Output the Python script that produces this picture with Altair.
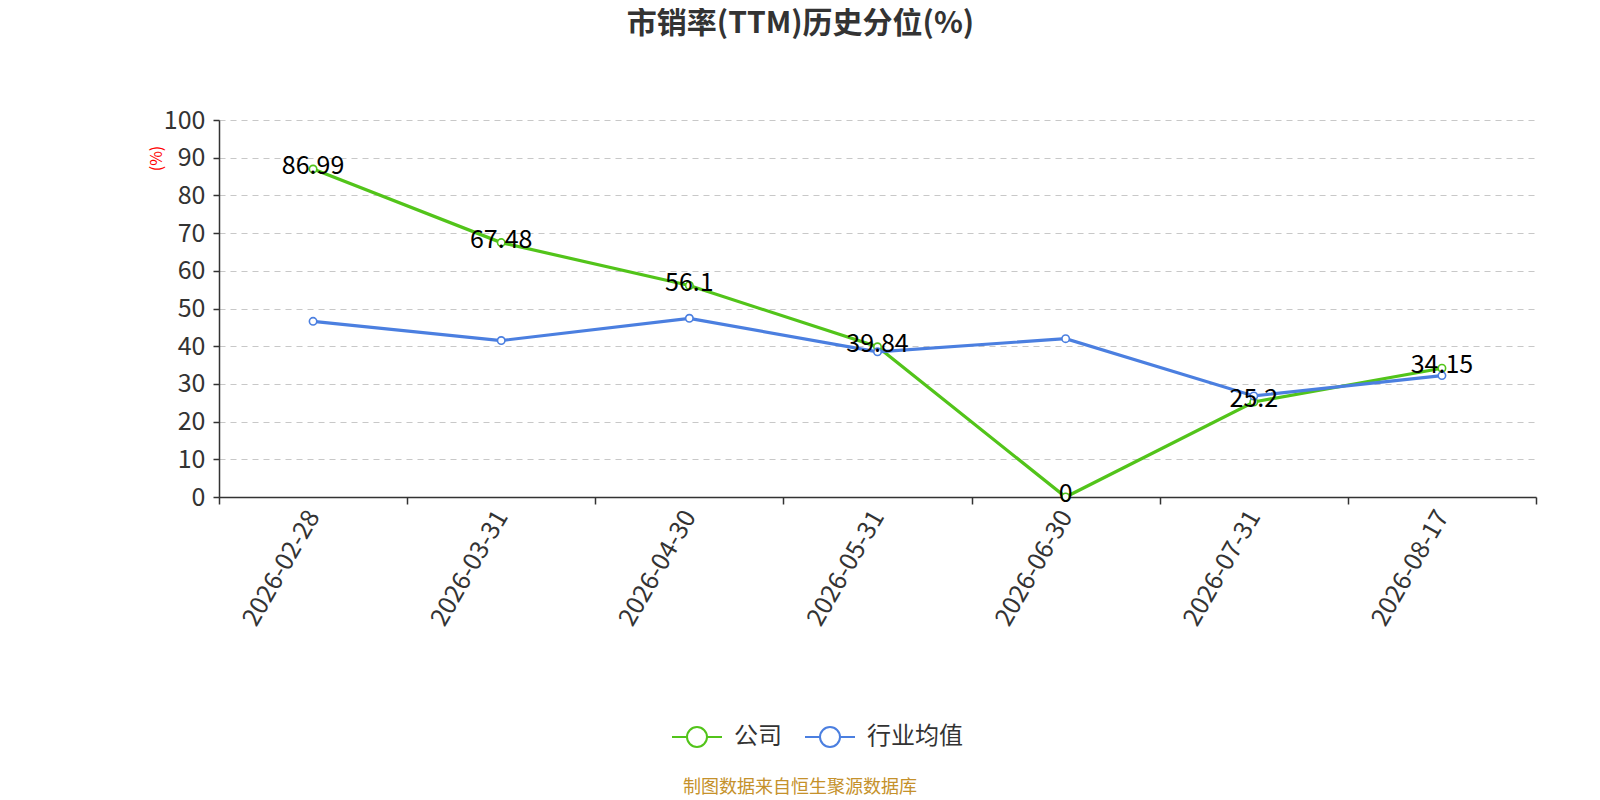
import altair as alt
import pandas as pd

dates = ["2026-02-28", "2026-03-31", "2026-04-30", "2026-05-31", "2026-06-30", "2026-07-31", "2026-08-17"]
company = [86.99, 67.48, 56.1, 39.84, 0, 25.2, 34.15]
industry = [46.6, 41.5, 47.4, 38.5, 42.0, 26.8, 32.2]
series_names = ["公司", "行业均值"]
colors = ["#52c41a", "#4b7fe0"]
title_text = "市销率(TTM)历史分位(%)"
footer_text = "制图数据来自恒生聚源数据库"
FONT = "Noto Sans CJK SC"

rows = []
for d, v in zip(dates, company):
    rows.append({"date": d, "value": v, "series": series_names[0]})
for d, v in zip(dates, industry):
    rows.append({"date": d, "value": v, "series": series_names[1]})
df = pd.DataFrame(rows)

legend_path = "M-1,0L-0.4,0M0.4,0L1,0M0.4,0A0.4,0.4,0,1,1,-0.4,0A0.4,0.4,0,1,1,0.4,0"

x_enc = alt.X(
    "date:N", sort=dates,
    scale=alt.Scale(type="band", paddingInner=0, paddingOuter=0),
    axis=alt.Axis(title=None, labelAngle=-60, labelFontSize=25, labelColor="#333",
                  labelFont=FONT, tickBand="extent", tickSize=7, tickColor="#333",
                  domainColor="#333", domainWidth=1.5, tickWidth=1.5, labelPadding=8, grid=False),
)
y_enc = alt.Y(
    "value:Q",
    scale=alt.Scale(domain=[0, 100], nice=False),
    axis=alt.Axis(values=list(range(0, 101, 10)), title="(%)", titleColor="red", titleFontSize=16,
                  titleFont=FONT, titleFontWeight="normal", titleX=-63, titleY=38, titleAngle=-90,
                  titleAlign="center", titleBaseline="middle",
                  labelFontSize=25, labelColor="#333", labelFont=FONT, tickSize=6, tickColor="#333",
                  domainColor="#333", domainWidth=1.5, tickWidth=1.5, labelPadding=8,
                  grid=True, gridDash=[6, 5], gridColor="#c8c8c8", gridWidth=1.2),
)
color_enc = alt.Color(
    "series:N", sort=series_names,
    scale=alt.Scale(domain=series_names, range=colors),
    legend=alt.Legend(title=None, orient="none", direction="horizontal", legendX=452, legendY=591,
                      symbolType=legend_path, symbolSize=2500, symbolStrokeWidth=2,
                      symbolFillColor="white", labelFontSize=24, labelFont=FONT, labelColor="#333",
                      labelOffset=11, columnPadding=19),
)

base = alt.Chart(df)
lines = base.mark_line(strokeWidth=3.2).encode(x=x_enc, y=y_enc, color=color_enc)
points = base.mark_point(filled=True, fill="white", size=55, strokeWidth=1.6, opacity=1).encode(
    x=x_enc, y=y_enc, stroke=alt.Stroke("series:N", scale=alt.Scale(domain=series_names, range=colors), legend=None)
)
labels = base.transform_filter(alt.datum.series == series_names[0]).mark_text(
    fontSize=25, font=FONT, color="black", align="center", baseline="middle", dy=-3
).encode(x=x_enc, y=y_enc, text=alt.Text("value:Q"))

footer = alt.Chart(pd.DataFrame({"t": [footer_text]})).mark_text(
    fontSize=18, font=FONT, color="#c5912b", align="center", baseline="middle"
).encode(x=alt.value(581), y=alt.value(668), text="t:N")

chart = alt.layer(lines, points, labels, footer).properties(
    width=1317, height=377,
    title=alt.TitleParams(title_text, fontSize=30, font=FONT, fontWeight="bold", color="#333",
                          anchor="middle", frame="group", dx=-77, offset=69),
    autosize=alt.AutoSizeParams(type="none"),
    padding={"left": 211, "top": 112, "right": 20, "bottom": 303},
).configure_view(stroke=None)

chart.save("out.html", embed_options={"renderer": "svg", "actions": False})
